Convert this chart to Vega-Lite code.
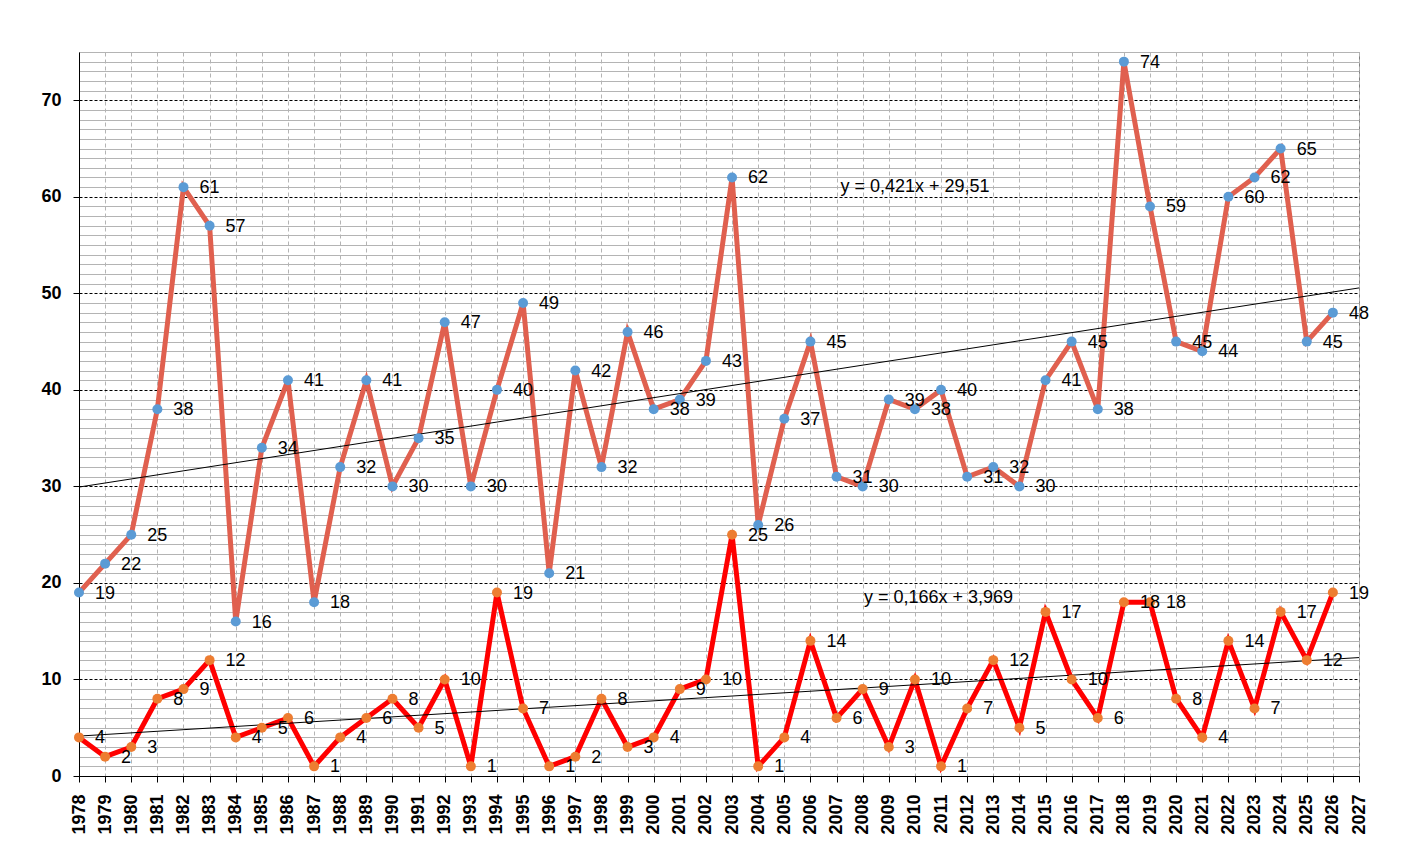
{
  "$schema": "https://vega.github.io/schema/vega-lite/v6.json",
  "width": 1280,
  "height": 724,
  "autosize": "none",
  "padding": {"left": 79, "top": 52, "right": 45, "bottom": 73},
  "background": "white",
  "config": {
    "view": {"stroke": "#808080", "strokeWidth": 1},
    "font": "Liberation Sans"
  },
  "datasets": {
    "series": [
      {"year": 1978, "a": 19, "b": 4},
      {"year": 1979, "a": 22, "b": 2},
      {"year": 1980, "a": 25, "b": 3},
      {"year": 1981, "a": 38, "b": 8},
      {"year": 1982, "a": 61, "b": 9},
      {"year": 1983, "a": 57, "b": 12},
      {"year": 1984, "a": 16, "b": 4},
      {"year": 1985, "a": 34, "b": 5},
      {"year": 1986, "a": 41, "b": 6},
      {"year": 1987, "a": 18, "b": 1},
      {"year": 1988, "a": 32, "b": 4},
      {"year": 1989, "a": 41, "b": 6},
      {"year": 1990, "a": 30, "b": 8},
      {"year": 1991, "a": 35, "b": 5},
      {"year": 1992, "a": 47, "b": 10},
      {"year": 1993, "a": 30, "b": 1},
      {"year": 1994, "a": 40, "b": 19},
      {"year": 1995, "a": 49, "b": 7},
      {"year": 1996, "a": 21, "b": 1},
      {"year": 1997, "a": 42, "b": 2},
      {"year": 1998, "a": 32, "b": 8},
      {"year": 1999, "a": 46, "b": 3},
      {"year": 2000, "a": 38, "b": 4},
      {"year": 2001, "a": 39, "b": 9},
      {"year": 2002, "a": 43, "b": 10},
      {"year": 2003, "a": 62, "b": 25},
      {"year": 2004, "a": 26, "b": 1},
      {"year": 2005, "a": 37, "b": 4},
      {"year": 2006, "a": 45, "b": 14},
      {"year": 2007, "a": 31, "b": 6},
      {"year": 2008, "a": 30, "b": 9},
      {"year": 2009, "a": 39, "b": 3},
      {"year": 2010, "a": 38, "b": 10},
      {"year": 2011, "a": 40, "b": 1},
      {"year": 2012, "a": 31, "b": 7},
      {"year": 2013, "a": 32, "b": 12},
      {"year": 2014, "a": 30, "b": 5},
      {"year": 2015, "a": 41, "b": 17},
      {"year": 2016, "a": 45, "b": 10},
      {"year": 2017, "a": 38, "b": 6},
      {"year": 2018, "a": 74, "b": 18},
      {"year": 2019, "a": 59, "b": 18},
      {"year": 2020, "a": 45, "b": 8},
      {"year": 2021, "a": 44, "b": 4},
      {"year": 2022, "a": 60, "b": 14},
      {"year": 2023, "a": 62, "b": 7},
      {"year": 2024, "a": 65, "b": 17},
      {"year": 2025, "a": 45, "b": 12},
      {"year": 2026, "a": 48, "b": 19}
    ],
    "trend": [
      {"year": 1978, "a": 29.93, "b": 4.135},
      {"year": 2027, "a": 50.56, "b": 12.269}
    ],
    "notes": [
      {"year": 2007.15, "v": 61, "label": "y = 0,421x + 29,51"},
      {"year": 2008.05, "v": 18.4, "label": "y = 0,166x + 3,969"}
    ]
  },
  "encoding": {
    "x": {
      "field": "year",
      "type": "quantitative",
      "scale": {"domain": [1978, 2027], "nice": false, "zero": false},
      "axis": {
        "title": null,
        "values": [1978,1979,1980,1981,1982,1983,1984,1985,1986,1987,1988,1989,1990,1991,1992,1993,1994,1995,1996,1997,1998,1999,2000,2001,2002,2003,2004,2005,2006,2007,2008,2009,2010,2011,2012,2013,2014,2015,2016,2017,2018,2019,2020,2021,2022,2023,2024,2025,2026,2027],
        "tickCount": 200,
        "format": "d",
        "labelAngle": -90,
        "labelFont": "Liberation Sans",
        "labelFontSize": 18,
        "labelFontWeight": "bold",
        "labelColor": "black",
        "labelPadding": 12,
        "labelOverlap": false,
        "labelFlush": false,
        "labelBound": false,
        "tickSize": 6,
        "tickColor": "black",
        "domainColor": "black",
        "grid": true,
        "gridColor": "#b4b4b4",
        "gridDash": [4, 3],
        "gridWidth": 1
      }
    }
  },
  "layer": [
    {
      "data": {"name": "series"},
      "mark": {"type": "line", "color": "#E0604F", "strokeWidth": 5},
      "encoding": {
        "y": {
          "field": "a",
          "type": "quantitative",
          "scale": {"domain": [0, 75], "nice": false},
          "axis": {
            "title": null,
            "values": [0,1,2,3,4,5,6,7,8,9,10,11,12,13,14,15,16,17,18,19,20,21,22,23,24,25,26,27,28,29,30,31,32,33,34,35,36,37,38,39,40,41,42,43,44,45,46,47,48,49,50,51,52,53,54,55,56,57,58,59,60,61,62,63,64,65,66,67,68,69,70,71,72,73,74,75],
            "tickCount": 200,
            "format": "d",
            "labelExpr": "datum.value % 10 === 0 ? datum.label : ''",
            "labelFont": "Liberation Sans",
            "labelFontSize": 18,
            "labelFontWeight": "bold",
            "labelColor": "black",
            "labelPadding": 12,
            "labelOverlap": false,
            "tickSize": 6,
            "tickColor": "black",
            "tickOpacity": {"condition": {"test": "datum.value % 10 === 0", "value": 1}, "value": 0},
            "domainColor": "black",
            "grid": true,
            "gridColor": {"condition": {"test": "datum.value % 10 === 0", "value": "#000000"}, "value": "#b4b4b4"},
            "gridDash": {"condition": {"test": "datum.value % 10 === 0", "value": [3, 2]}, "value": []},
            "gridWidth": 1
          }
        }
      }
    },
    {
      "data": {"name": "series"},
      "mark": {"type": "line", "color": "#FF0000", "strokeWidth": 5},
      "encoding": {"y": {"field": "b", "type": "quantitative"}}
    },
    {
      "data": {"name": "trend"},
      "mark": {"type": "line", "color": "#000000", "strokeWidth": 1},
      "encoding": {"y": {"field": "a", "type": "quantitative"}}
    },
    {
      "data": {"name": "trend"},
      "mark": {"type": "line", "color": "#000000", "strokeWidth": 1},
      "encoding": {"y": {"field": "b", "type": "quantitative"}}
    },
    {
      "data": {"name": "series"},
      "mark": {"type": "point", "filled": true, "color": "#5B9BD5", "size": 100, "opacity": 1},
      "encoding": {"y": {"field": "a", "type": "quantitative"}}
    },
    {
      "data": {"name": "series"},
      "mark": {"type": "point", "filled": true, "color": "#ED7D31", "size": 100, "opacity": 1},
      "encoding": {"y": {"field": "b", "type": "quantitative"}}
    },
    {
      "data": {"name": "series"},
      "mark": {"type": "text", "align": "left", "baseline": "middle", "dx": 16, "dy": 1, "fontSize": 18, "font": "Liberation Sans", "color": "black"},
      "encoding": {
        "y": {"field": "a", "type": "quantitative"},
        "text": {"field": "a", "type": "quantitative"}
      }
    },
    {
      "data": {"name": "series"},
      "mark": {"type": "text", "align": "left", "baseline": "middle", "dx": 16, "dy": 1, "fontSize": 18, "font": "Liberation Sans", "color": "black"},
      "encoding": {
        "y": {"field": "b", "type": "quantitative"},
        "text": {"field": "b", "type": "quantitative"}
      }
    },
    {
      "data": {"name": "notes"},
      "mark": {"type": "text", "align": "left", "baseline": "middle", "fontSize": 18, "font": "Liberation Sans", "color": "black"},
      "encoding": {
        "y": {"field": "v", "type": "quantitative"},
        "text": {"field": "label", "type": "nominal"}
      }
    }
  ]
}
